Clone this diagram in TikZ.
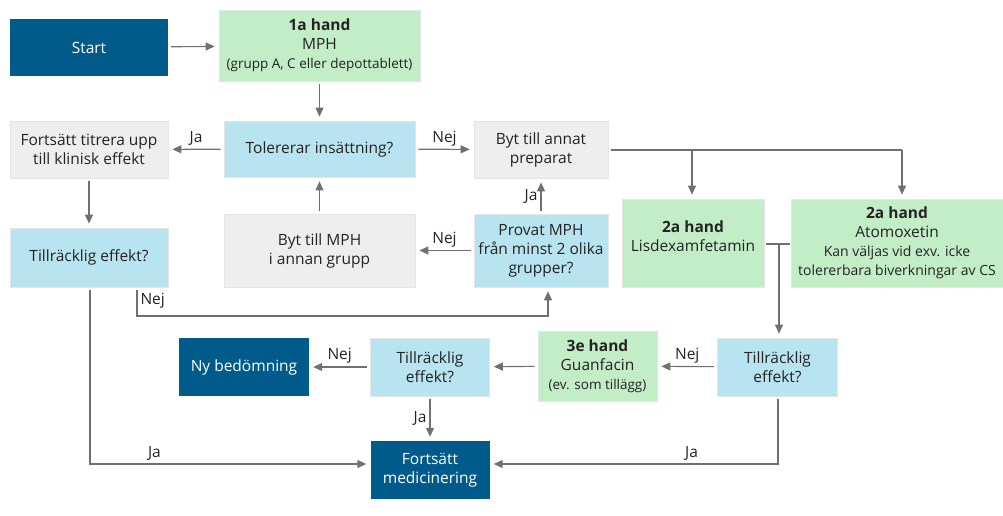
\documentclass[tikz,border=0pt]{standalone}
\usepackage{fontspec}
\setmainfont{Open Sans}
\usetikzlibrary{arrows.meta,positioning}
\definecolor{fkdark}{RGB}{0,91,138}
\definecolor{fkgreen}{RGB}{194,237,198}
\definecolor{fkblue}{RGB}{183,228,240}
\definecolor{fkgray}{RGB}{238,238,238}
\definecolor{fkline}{RGB}{112,112,108}
\definecolor{fktext}{RGB}{35,35,35}

\begin{document}
\begin{tikzpicture}[x=1pt,y=-1pt,
  font=\fontsize{15.5}{19}\selectfont,
  dims/.style 2 args={minimum width=#1pt,minimum height=#2pt,inner sep=0pt,align=center},
  darkbox/.style={fill=fkdark,text=white},
  greenbox/.style={fill=fkgreen,draw=black!10,line width=0.7pt,text=fktext},
  bluebox/.style={fill=fkblue,draw=black!10,line width=0.7pt,text=fktext},
  graybox/.style={fill=fkgray,draw=black!10,line width=0.7pt,text=fktext},
  arr/.style={draw=fkline,line width=1.1pt,-{Triangle[length=9pt,width=8pt]},shorten >=4pt,shorten <=3pt},
  lbl/.style={text=fktext,inner sep=3pt}]
\useasboundingbox (0,0) rectangle (1003,515);
% Top row
\node[darkbox,dims={158}{57}] (start) at (89,47.5) {Start};
\node[greenbox,dims={201}{71}] (first) at (319.5,45.5) {\textbf{1a hand}\\MPH\\{\fontsize{13.5}{19}\selectfont (grupp A, C eller depottablett)}};
% Second row
\node[graybox,dims={158}{57}] (titrera) at (89,149.5) {Fortsätt titrera upp\\till klinisk effekt};
\node[bluebox,dims={191}{56}] (tolererar) at (319.5,149) {Tolererar insättning?};
\node[graybox,dims={134}{57}] (annat) at (541,149.5) {Byt till annat\\preparat};
% Third row
\node[bluebox,dims={158}{59}] (effL) at (89,257.5) {Tillräcklig effekt?};
\node[graybox,dims={191}{73}] (mphgrupp) at (319.5,250.5) {Byt till MPH\\i annan grupp};
\node[bluebox,dims={134}{73}] (provat) at (541,250.5) {Provat MPH\\från minst 2 olika\\grupper?};
\node[greenbox,dims={142}{88}] (lisdex) at (693,243) {\textbf{2a hand}\\Lisdexamfetamin\\[-5pt]};
\node[greenbox,dims={212}{88}] (atomox) at (897,243) {\textbf{2a hand}\\Atomoxetin\\{\fontsize{14}{18}\selectfont Kan väljas vid exv. icke}\\{\fontsize{14}{18}\selectfont tolererbara biverkningar av CS}};
% Fourth row
\node[darkbox,dims={130}{58}] (nybed) at (244,367) {Ny bedömning};
\node[bluebox,dims={119}{58}] (effM) at (430,367) {Tillräcklig\\effekt?};
\node[greenbox,dims={119}{70}] (third) at (597.5,366) {\textbf{3e hand}\\Guanfacin\\{\fontsize{13.5}{19}\selectfont (ev. som tillägg)}};
\node[bluebox,dims={120}{58}] (effR) at (777.5,367) {Tillräcklig\\effekt?};
% Bottom
\node[darkbox,dims={119}{58}] (fortsatt) at (430,470) {Fortsätt\\medicinering};
% Bends
\coordinate (jaL) at (90,464);
\coordinate (jaR) at (778,464);
\coordinate (nejL) at (137,316);
\coordinate (nejR) at (548,316);
\coordinate (forkA) at (692,150);
\coordinate (forkB) at (902,150);
\coordinate (split) at (779,244);
% Connectors
\draw[arr] (start) -- (first);
\draw[arr] (first) -- (tolererar);
\draw[arr] (tolererar) -- node[lbl,above] {Ja} (titrera);
\draw[arr] (tolererar) -- node[lbl,above] {Nej} (annat);
\draw[arr] (titrera) -- (effL);
\draw[arr] (mphgrupp) -- (tolererar);
\draw[arr] (provat) -- node[lbl,above] {Nej} (mphgrupp);
\draw[arr] (provat) -- node[lbl,left] {Ja} (annat);
\draw[arr] (effL.south -| nejL) -- node[lbl,right,pos=0.45] {Nej} (nejL) -- (nejR) -- (nejR |- provat.south);
\draw[arr] (effL.south -| jaL) -- (jaL) -- node[lbl,above,pos=0.23] {Ja} (jaL -| fortsatt.west);
\draw[draw=fkline,line width=1.1pt,shorten <=3pt] (annat.east |- forkA) -- (forkB);
\draw[arr,shorten <=0pt] (forkA) -- (forkA |- lisdex.north);
\draw[arr,shorten <=0pt] (forkB) -- (forkB |- atomox.north);
\draw[draw=fkline,line width=1.1pt,shorten <=2pt,shorten >=1pt] (lisdex.east |- split) -- (atomox.west |- split);
\draw[arr,shorten <=0pt] (split) -- (split |- effR.north);
\draw[arr] (effR) -- node[lbl,above] {Nej} (third);
\draw[arr] (third) -- (effM);
\draw[arr] (effM) -- node[lbl,above] {Nej} (nybed);
\draw[arr] (effM) -- node[lbl,left] {Ja} (fortsatt);
\draw[arr] (effR.south -| jaR) -- (jaR) -- node[lbl,above,pos=0.3] {Ja} (jaR -| fortsatt.east);
\end{tikzpicture}
\end{document}
